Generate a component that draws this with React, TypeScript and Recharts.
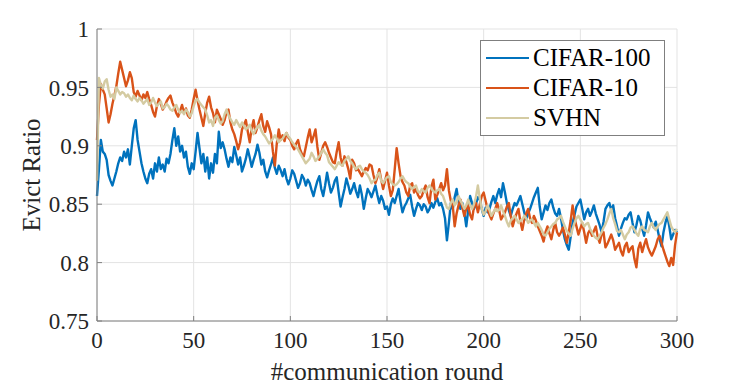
import { CartesianGrid, Label, Legend, Line, LineChart, XAxis, YAxis } from 'recharts';

// x positions: one point per communication round
const rounds = Array.from({ length: 301 }, (_, i) => i);

const cifar100 = [
  0.857, 0.880, 0.905, 0.895, 0.893, 0.888, 0.875, 0.870, 0.866, 0.872,
  0.878, 0.885, 0.890, 0.887, 0.895, 0.890, 0.897, 0.884, 0.900, 0.915,
  0.922, 0.905, 0.895, 0.885, 0.878, 0.872, 0.868, 0.876, 0.880, 0.872,
  0.885, 0.878, 0.890, 0.880, 0.884, 0.878, 0.889, 0.885, 0.893, 0.905,
  0.915, 0.900, 0.908, 0.895, 0.900, 0.890, 0.895, 0.882, 0.876, 0.885,
  0.880, 0.895, 0.911, 0.898, 0.885, 0.893, 0.878, 0.890, 0.872, 0.885,
  0.877, 0.893, 0.885, 0.912, 0.898, 0.903, 0.897, 0.889, 0.882, 0.890,
  0.886, 0.899, 0.892, 0.884, 0.890, 0.878, 0.883, 0.889, 0.897, 0.890,
  0.882, 0.888, 0.893, 0.901, 0.894, 0.884, 0.888, 0.878, 0.873, 0.879,
  0.884, 0.890, 0.881, 0.876, 0.883, 0.879, 0.874, 0.880, 0.872, 0.867,
  0.872, 0.879, 0.876, 0.870, 0.864, 0.868, 0.875, 0.872, 0.866, 0.871,
  0.868, 0.862, 0.857, 0.864, 0.870, 0.874, 0.863, 0.857, 0.866, 0.877,
  0.868, 0.860, 0.864, 0.870, 0.873, 0.860, 0.848, 0.856, 0.863, 0.872,
  0.866, 0.859, 0.863, 0.868, 0.861, 0.856, 0.866, 0.858, 0.846, 0.855,
  0.863, 0.860, 0.856, 0.861, 0.866, 0.858, 0.851, 0.857, 0.853, 0.846,
  0.848, 0.841, 0.850, 0.855, 0.851, 0.857, 0.863, 0.852, 0.843, 0.848,
  0.851, 0.855, 0.858, 0.848, 0.840, 0.846, 0.851, 0.849, 0.845, 0.850,
  0.848, 0.843, 0.846, 0.851, 0.847, 0.852, 0.855, 0.849, 0.851, 0.846,
  0.838, 0.819, 0.834, 0.851, 0.846, 0.856, 0.863, 0.852, 0.846, 0.851,
  0.843, 0.831, 0.845, 0.857, 0.851, 0.846, 0.850, 0.856, 0.854, 0.846,
  0.840, 0.847, 0.843, 0.846, 0.852, 0.857, 0.851, 0.858, 0.863, 0.856,
  0.868, 0.860, 0.851, 0.845, 0.840, 0.846, 0.851, 0.849, 0.853, 0.857,
  0.850, 0.843, 0.837, 0.842, 0.846, 0.851, 0.856, 0.860, 0.864, 0.848,
  0.837, 0.843, 0.849, 0.845, 0.851, 0.854, 0.847, 0.842, 0.840, 0.846,
  0.838, 0.828, 0.820, 0.815, 0.811, 0.822, 0.834, 0.841, 0.848, 0.851,
  0.854, 0.846, 0.837, 0.843, 0.846, 0.840, 0.844, 0.849, 0.842, 0.837,
  0.832, 0.826, 0.835, 0.846, 0.849, 0.851, 0.845, 0.849, 0.838, 0.831,
  0.823, 0.829, 0.834, 0.838, 0.837, 0.841, 0.843, 0.834, 0.826, 0.832,
  0.840, 0.836, 0.829, 0.823, 0.832, 0.843, 0.838, 0.834, 0.830, 0.835,
  0.828, 0.820, 0.814, 0.826, 0.834, 0.840, 0.831, 0.820, 0.824, 0.828,
  0.826,
];

const cifar10 = [
  0.905, 0.935, 0.953, 0.948, 0.944, 0.932, 0.920, 0.927, 0.936, 0.943,
  0.951, 0.962, 0.972, 0.965, 0.958, 0.951, 0.956, 0.963, 0.958, 0.946,
  0.942, 0.947, 0.943, 0.939, 0.944, 0.941, 0.946, 0.940, 0.935, 0.929,
  0.925, 0.934, 0.940, 0.936, 0.931, 0.934, 0.938, 0.941, 0.943, 0.937,
  0.933, 0.928, 0.925, 0.930, 0.935, 0.928, 0.932, 0.926, 0.924, 0.931,
  0.940, 0.948, 0.939, 0.931, 0.924, 0.917, 0.928, 0.937, 0.942, 0.933,
  0.928, 0.920, 0.931, 0.927, 0.923, 0.918, 0.922, 0.929, 0.931, 0.920,
  0.914, 0.910, 0.904, 0.897, 0.903, 0.914, 0.918, 0.922, 0.912, 0.903,
  0.915, 0.922, 0.911, 0.916, 0.922, 0.927, 0.917, 0.912, 0.921, 0.916,
  0.910, 0.895, 0.883, 0.902, 0.914, 0.905, 0.909, 0.904, 0.911, 0.907,
  0.905, 0.900, 0.897, 0.902, 0.905, 0.897, 0.893, 0.891, 0.899, 0.907,
  0.914, 0.903, 0.908, 0.914, 0.899, 0.888, 0.894, 0.900, 0.903, 0.899,
  0.894, 0.890, 0.886, 0.885, 0.895, 0.903, 0.890, 0.883, 0.891, 0.886,
  0.880, 0.872, 0.888, 0.885, 0.879, 0.880, 0.877, 0.874, 0.878, 0.881,
  0.879, 0.884, 0.883, 0.875, 0.868, 0.873, 0.880, 0.871, 0.863, 0.870,
  0.877, 0.866, 0.857, 0.862, 0.880, 0.898, 0.885, 0.874, 0.869, 0.866,
  0.860, 0.857, 0.866, 0.868, 0.860, 0.863, 0.858, 0.855, 0.857, 0.862,
  0.866, 0.856, 0.851, 0.865, 0.871, 0.854, 0.858, 0.863, 0.868, 0.862,
  0.866, 0.880, 0.862, 0.853, 0.849, 0.831, 0.842, 0.849, 0.854, 0.847,
  0.840, 0.846, 0.849, 0.841, 0.837, 0.848, 0.851, 0.843, 0.850, 0.857,
  0.860, 0.853, 0.846, 0.841, 0.837, 0.842, 0.846, 0.851, 0.845, 0.837,
  0.840, 0.843, 0.848, 0.851, 0.840, 0.831, 0.837, 0.842, 0.846, 0.835,
  0.828, 0.837, 0.842, 0.846, 0.838, 0.834, 0.840, 0.836, 0.831, 0.827,
  0.823, 0.818, 0.826, 0.831, 0.825, 0.820, 0.828, 0.834, 0.826, 0.823,
  0.826, 0.830, 0.824, 0.817, 0.826, 0.836, 0.849, 0.838, 0.831, 0.824,
  0.829, 0.834, 0.826, 0.817, 0.825, 0.828, 0.823, 0.827, 0.831, 0.822,
  0.817, 0.824, 0.826, 0.813, 0.816, 0.820, 0.824, 0.819, 0.811, 0.814,
  0.817, 0.810, 0.806, 0.814, 0.817, 0.809, 0.812, 0.814, 0.803, 0.796,
  0.812, 0.817, 0.809, 0.815, 0.820, 0.813, 0.809, 0.806, 0.810, 0.814,
  0.820, 0.823, 0.817, 0.811, 0.806, 0.801, 0.797, 0.804, 0.798, 0.815,
  0.826,
];

const svhn = [
  0.870, 0.958, 0.952, 0.949, 0.955, 0.957, 0.948, 0.942, 0.944, 0.940,
  0.950, 0.947, 0.944, 0.946, 0.945, 0.942, 0.944, 0.941, 0.939, 0.943,
  0.940, 0.938, 0.941, 0.939, 0.936, 0.938, 0.940, 0.935, 0.937, 0.941,
  0.937, 0.934, 0.936, 0.938, 0.932, 0.933, 0.936, 0.934, 0.931, 0.930,
  0.933, 0.935, 0.931, 0.928, 0.930, 0.927, 0.931, 0.929, 0.925, 0.928,
  0.934, 0.939, 0.940, 0.937, 0.935, 0.933, 0.931, 0.926, 0.920, 0.922,
  0.917, 0.924, 0.926, 0.922, 0.919, 0.921, 0.927, 0.931, 0.926, 0.923,
  0.920, 0.918, 0.922, 0.919, 0.916, 0.920, 0.917, 0.914, 0.916, 0.918,
  0.913, 0.910, 0.914, 0.916, 0.918, 0.913, 0.910, 0.908, 0.905, 0.902,
  0.904, 0.906, 0.909, 0.906, 0.903, 0.905, 0.906, 0.909, 0.911, 0.908,
  0.906, 0.903, 0.901, 0.899, 0.897, 0.894, 0.891, 0.888, 0.885, 0.887,
  0.889, 0.894, 0.891, 0.887, 0.889, 0.891, 0.894, 0.897, 0.894, 0.892,
  0.886, 0.884, 0.882, 0.880, 0.883, 0.886, 0.884, 0.883, 0.887, 0.889,
  0.891, 0.887, 0.885, 0.882, 0.880, 0.882, 0.883, 0.880, 0.878, 0.877,
  0.875, 0.872, 0.868, 0.870, 0.871, 0.875, 0.877, 0.870, 0.868, 0.871,
  0.873, 0.874, 0.869, 0.867, 0.866, 0.867, 0.869, 0.872, 0.874, 0.871,
  0.869, 0.868, 0.865, 0.863, 0.865, 0.866, 0.861, 0.860, 0.863, 0.861,
  0.860, 0.864, 0.866, 0.863, 0.861, 0.860, 0.862, 0.863, 0.859, 0.857,
  0.852, 0.847, 0.846, 0.851, 0.854, 0.849, 0.852, 0.857, 0.853, 0.850,
  0.846, 0.849, 0.854, 0.849, 0.846, 0.850, 0.856, 0.866, 0.855, 0.846,
  0.841, 0.844, 0.849, 0.845, 0.840, 0.843, 0.846, 0.844, 0.845, 0.849,
  0.844, 0.840, 0.835, 0.831, 0.836, 0.838, 0.840, 0.837, 0.834, 0.836,
  0.837, 0.840, 0.838, 0.834, 0.836, 0.837, 0.834, 0.831, 0.834, 0.831,
  0.828, 0.824, 0.823, 0.826, 0.829, 0.831, 0.833, 0.834, 0.837, 0.838,
  0.840, 0.835, 0.831, 0.827, 0.825, 0.823, 0.829, 0.834, 0.838, 0.840,
  0.837, 0.834, 0.831, 0.833, 0.834, 0.829, 0.826, 0.823, 0.821, 0.820,
  0.823, 0.826, 0.830, 0.833, 0.837, 0.842, 0.846, 0.838, 0.833, 0.827,
  0.826, 0.828, 0.824, 0.820, 0.824, 0.826, 0.830, 0.831, 0.828, 0.825,
  0.823, 0.829, 0.831, 0.828, 0.827, 0.826, 0.831, 0.834, 0.830, 0.828,
  0.831, 0.833, 0.834, 0.837, 0.840, 0.843, 0.837, 0.831, 0.828, 0.826,
  0.829,
];

const xTicks = [0, 50, 100, 150, 200, 250, 300];
const yTicks = [0.75, 0.8, 0.85, 0.9, 0.95, 1];

const series = [
  { key: 'cifar100', name: 'CIFAR-100', color: '#0072bd' },
  { key: 'cifar10', name: 'CIFAR-10', color: '#d95319' },
  { key: 'svhn', name: 'SVHN', color: '#d4cba2' },
];

const data = rounds.map((round, i) => ({
  round,
  cifar100: cifar100[i],
  cifar10: cifar10[i],
  svhn: svhn[i],
}));

const FONT = '"Liberation Serif", "Times New Roman", Times, serif';
const tickStyle = { fill: '#262626', fontSize: 23, fontFamily: FONT };

function LegendBox() {
  return (
    <div
      style={{
        boxSizing: 'border-box',
        width: 185,
        height: 96,
        border: '1px solid #7f7f7f',
        background: '#fff',
        paddingTop: 2,
        fontFamily: FONT,
      }}
    >
      {series.map((s) => (
        <div key={s.key} style={{ display: 'flex', alignItems: 'center', height: 30 }}>
          <span
            style={{ display: 'inline-block', width: 43, height: 2, background: s.color, marginLeft: 5, marginRight: 4 }}
          />
          <span style={{ fontSize: 25, lineHeight: '30px', color: '#000', fontFamily: FONT }}>{s.name}</span>
        </div>
      ))}
    </div>
  );
}

export default function App() {
  return (
    <div
      style={{ position: 'absolute', left: 0, top: 0, width: 747, height: 386, background: '#fff', fontFamily: FONT }}
    >
      <LineChart width={747} height={386} data={data} margin={{ top: 29, right: 70, bottom: 0, left: 0 }}>
        <CartesianGrid stroke="#e3e3e3" />
        <XAxis
          type="number"
          dataKey="round"
          domain={[0, 300]}
          ticks={xTicks}
          interval={0}
          height={65}
          tickSize={-5}
          tickMargin={16}
          stroke="#808080"
          tick={tickStyle}
        >
          <Label
            value="#communication round"
            position="insideBottom"
            offset={6}
            style={{ fontSize: 25, fontFamily: FONT, fill: '#262626' }}
          />
        </XAxis>
        <YAxis
          type="number"
          domain={[0.75, 1]}
          ticks={yTicks}
          interval={0}
          width={97}
          tickSize={-5}
          tickMargin={13}
          stroke="#808080"
          tick={tickStyle}
        >
          <Label
            value="Evict Ratio"
            angle={-90}
            position="insideLeft"
            offset={31}
            style={{ fontSize: 25, fontFamily: FONT, fill: '#262626', textAnchor: 'middle' }}
          />
        </YAxis>
        <Legend
          layout="horizontal"
          verticalAlign="middle"
          content={() => <LegendBox />}
          wrapperStyle={{ left: 480, top: 40, width: 185, height: 96 }}
        />
        {series.map((s) => (
          <Line
            key={s.key}
            type="linear"
            dataKey={s.key}
            name={s.name}
            stroke={s.color}
            strokeWidth={2.4}
            strokeLinejoin="round"
            dot={false}
            activeDot={false}
            isAnimationActive={false}
          />
        ))}
      </LineChart>
    </div>
  );
}
